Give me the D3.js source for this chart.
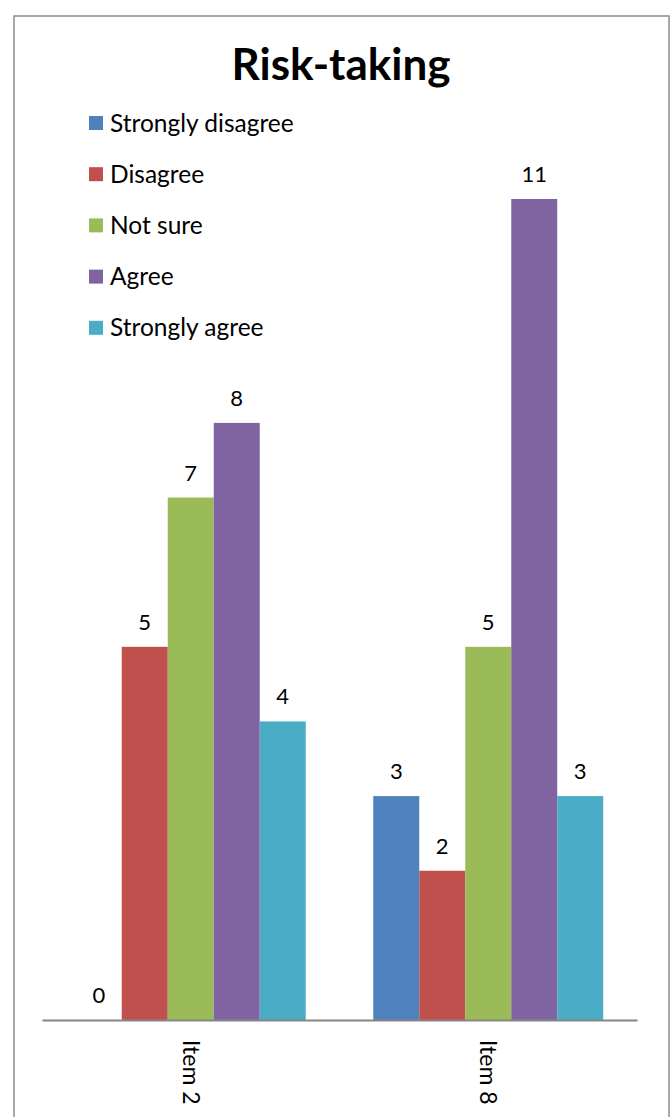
<!DOCTYPE html>
<html>
<head>
<meta charset="utf-8">
<script src="https://cdn.jsdelivr.net/npm/d3@7"></script>
<style>
  body { margin: 0; background: #fff; }
  text { font-family: Lato, "Open Sans", sans-serif; }
</style>
</head>
<body>
<div id="chart"></div>
<script>
// Data
const items = ["Item 2", "Item 8"];
const responses = ["Strongly disagree", "Disagree", "Not sure", "Agree", "Strongly agree"];
const item2Values = [0, 5, 7, 8, 4];
const item8Values = [3, 2, 5, 11, 3];
const colors = ["#4F81BD", "#C0504D", "#9BBB59", "#8064A2", "#4BACC6"];

const seriesByItem = { "Item 2": item2Values, "Item 8": item8Values };

const W = 671, H = 1117;
const plot = { left: 42, right: 637, bottom: 1020 };

const svg = d3.select("#chart").append("svg")
    .attr("width", W)
    .attr("height", H);

// chart area border
svg.append("rect")
    .attr("x", 14)
    .attr("y", 16)
    .attr("width", 655)
    .attr("height", H)
    .attr("fill", "none")
    .attr("stroke", "#8c8c8c")
    .attr("stroke-width", 1.5);

// title
svg.append("text")
    .attr("x", 341)
    .attr("y", 80)
    .attr("text-anchor", "middle")
    .style("font-size", "44px")
    .style("font-weight", "bold")
    .text("Risk-taking");

const x0 = d3.scaleBand()
    .domain(items)
    .range([plot.left, plot.right])
    .paddingInner(0.227)
    .paddingOuter(0.1135);

const x1 = d3.scaleBand()
    .domain(responses)
    .range([0, x0.bandwidth()]);

const y = d3.scaleLinear()
    .domain([0, 11])
    .range([plot.bottom, 199]);

const color = d3.scaleOrdinal().domain(responses).range(colors);

const flat = [];
items.forEach(item => {
    seriesByItem[item].forEach((v, i) => {
        flat.push({ item: item, response: responses[i], value: v });
    });
});

// bars
svg.append("g").selectAll("rect")
    .data(flat)
    .enter().append("rect")
    .attr("x", d => x0(d.item) + x1(d.response))
    .attr("y", d => y(d.value))
    .attr("width", x1.bandwidth())
    .attr("height", d => plot.bottom - y(d.value))
    .attr("fill", d => color(d.response));

// value labels
svg.append("g").selectAll("text")
    .data(flat)
    .enter().append("text")
    .attr("x", d => x0(d.item) + x1(d.response) + x1.bandwidth() / 2)
    .attr("y", d => y(d.value) - 17)
    .attr("text-anchor", "middle")
    .style("font-size", "22px")
    .text(d => d.value);

// x axis
const xAxis = svg.append("g")
    .attr("transform", `translate(0, ${plot.bottom})`)
    .call(d3.axisBottom(x0).tickSize(0).tickPadding(0));

xAxis.select(".domain")
    .attr("stroke", "#868686")
    .attr("stroke-width", 2);

xAxis.selectAll("text")
    .attr("transform", "translate(0, 20) rotate(90)")
    .attr("dy", "0.35em")
    .attr("y", 0)
    .style("text-anchor", "start")
    .style("font-size", "23px")
    .style("font-family", "Lato, 'Open Sans', sans-serif")
    .attr("fill", "#000");

// legend
const legend = svg.append("g").selectAll("g")
    .data(responses)
    .enter().append("g")
    .attr("transform", (d, i) => `translate(89, ${123 + i * 51.2})`);

legend.append("rect")
    .attr("x", 0)
    .attr("y", -7)
    .attr("width", 14)
    .attr("height", 14)
    .attr("fill", d => color(d));

legend.append("text")
    .attr("x", 21)
    .attr("y", 0)
    .attr("dy", "0.35em")
    .style("font-size", "24.5px")
    .text(d => d);
</script>
</body>
</html>
